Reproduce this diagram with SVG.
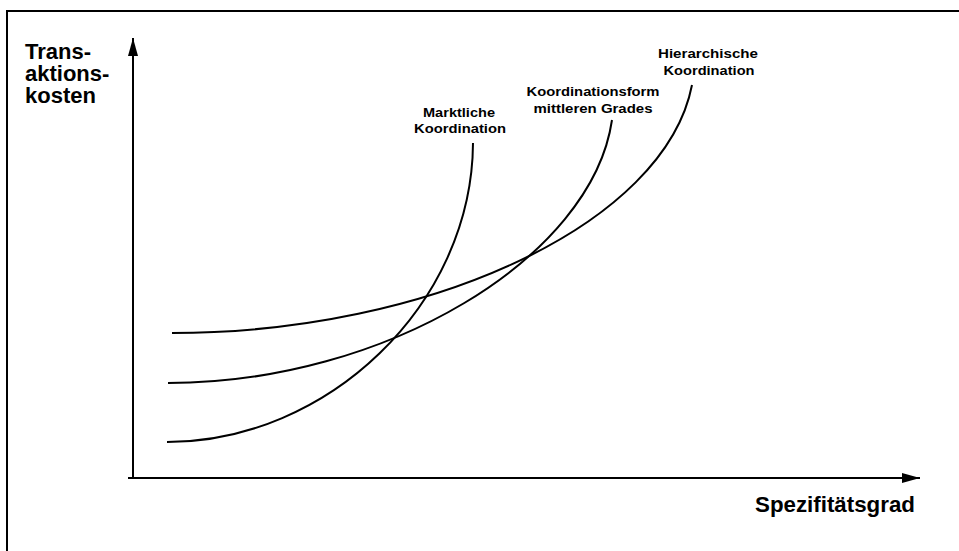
<svg xmlns="http://www.w3.org/2000/svg" width="959" height="551" viewBox="0 0 959 551">
  <style>
    .ax { stroke: #000; stroke-width: 2; fill: none; }
    .crv { stroke: #000; stroke-width: 2; fill: none; }
    .lbl { font-family: "Liberation Sans", Arial, sans-serif; font-weight: bold; font-size: 22px; fill: #000; }
    .sm { font-family: "Liberation Sans", Arial, sans-serif; font-weight: bold; font-size: 12.5px; fill: #000; text-anchor: middle; }
  </style>
  <defs>
    <marker id="arr" markerWidth="18" markerHeight="10" refX="18" refY="5" orient="auto" markerUnits="userSpaceOnUse">
      <path d="M0,0 L18,5 L0,10 Z" fill="#000"/>
    </marker>
  </defs>
  <rect x="0" y="0" width="959" height="551" fill="#fff"/>
  <rect id="frame" x="7" y="11" width="1100" height="1100" fill="none" stroke="#000" stroke-width="2"/>

  <g id="axes">
    <line class="ax" x1="133" y1="478" x2="133" y2="38" marker-end="url(#arr)"/>
    <line class="ax" x1="128" y1="478" x2="920" y2="478" marker-end="url(#arr)"/>
  </g>

  <g id="axis-labels">
    <text class="lbl" x="25" y="59">Trans-</text>
    <text class="lbl" x="25" y="81">aktions-</text>
    <text class="lbl" x="25" y="103">kosten</text>
    <text class="lbl" x="915" y="512" text-anchor="end" textLength="160" lengthAdjust="spacingAndGlyphs">Spezifitätsgrad</text>
  </g>

  <g id="connectors">
    <path id="curve-markt" class="crv" d="M167,442 C327,442 472,305 473,143"/>
    <path id="curve-mittel" class="crv" d="M168,383 C385,383 592,258 612,120"/>
    <path id="curve-hier" class="crv" d="M172,333 C430,333 665,224 692,85"/>
  </g>

  <g id="node-markt">
    <text class="sm" x="459" y="117" textLength="72" lengthAdjust="spacingAndGlyphs">Marktliche</text>
    <text class="sm" x="460" y="133" textLength="92" lengthAdjust="spacingAndGlyphs">Koordination</text>
  </g>
  <g id="node-mittel">
    <text class="sm" x="593" y="96" textLength="133" lengthAdjust="spacingAndGlyphs">Koordinationsform</text>
    <text class="sm" x="593" y="113" textLength="119" lengthAdjust="spacingAndGlyphs">mittleren Grades</text>
  </g>
  <g id="node-hier">
    <text class="sm" x="708" y="58" textLength="100" lengthAdjust="spacingAndGlyphs">Hierarchische</text>
    <text class="sm" x="709" y="75" textLength="91" lengthAdjust="spacingAndGlyphs">Koordination</text>
  </g>
</svg>
